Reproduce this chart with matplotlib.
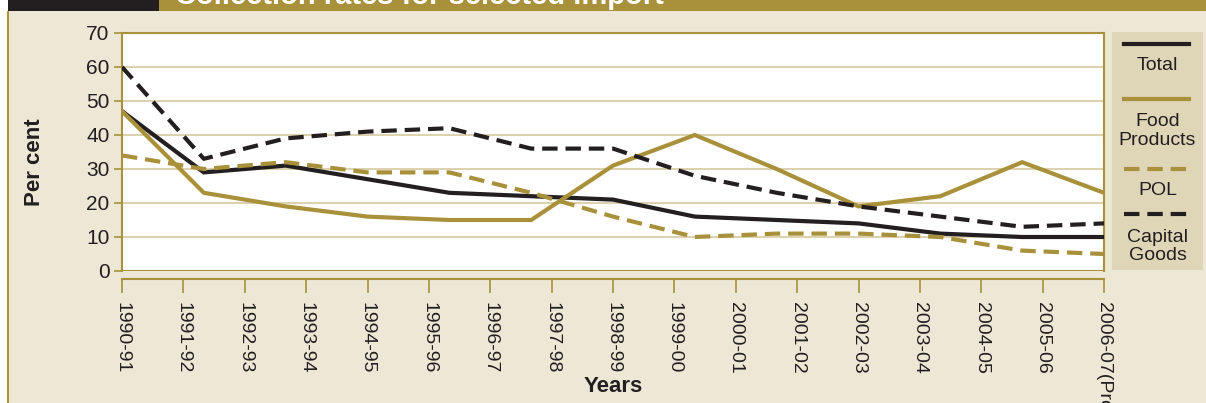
import numpy as np
import matplotlib
matplotlib.use('Agg')
import matplotlib.pyplot as plt
from matplotlib.patches import Rectangle
from matplotlib.lines import Line2D

plt.rcParams['font.family'] = ['Liberation Sans Narrow', 'DejaVu Sans Condensed', 'Liberation Sans', 'DejaVu Sans']

# data
years = ['1990-91', '1991-92', '1992-93', '1993-94', '1994-95', '1995-96',
         '1996-97', '1997-98', '1998-99', '1999-00', '2000-01', '2001-02',
         '2002-03', '2003-04', '2004-05', '2005-06', '2006-07(Prov.)']
total = [47, 29, 31, 27, 23, 22, 21, 16, 15, 14, 11, 10, 10]
food = [47, 23, 19, 16, 15, 15, 31, 40, 30, 19, 22, 32, 23]
pol = [34, 30, 32, 29, 29, 23, 16, 10, 11, 11, 10, 6, 5]
capital = [60, 33, 39, 41, 42, 36, 36, 28, 23, 19, 16, 13, 14]
series_names = ['Total', 'Food\nProducts', 'POL', 'Capital\nGoods']

GOLD = '#A8913A'
DARK = '#231F20'
BEIGE = '#EDE7D6'
LEGBG = '#DFD5B7'
GRID = '#DCD2AF'

W, H = 1206, 403
fig = plt.figure(figsize=(W / 100, H / 100), dpi=100, facecolor=BEIGE)

# header bar + left border
fig.patches.append(Rectangle((0, 1 - 11 / H), 8 / W, 11 / H, transform=fig.transFigure,
                             facecolor='white', edgecolor='none'))
fig.patches.append(Rectangle((0, 0), 7 / W, 1, transform=fig.transFigure,
                             facecolor='white', edgecolor='none'))
fig.patches.append(Rectangle((8 / W, 1 - 11 / H), 151 / W, 11 / H, transform=fig.transFigure,
                             facecolor=DARK, edgecolor='none'))
fig.patches.append(Rectangle((159 / W, 1 - 11 / H), 1 - 159 / W, 11 / H, transform=fig.transFigure,
                             facecolor=GOLD, edgecolor='none'))
fig.patches.append(Rectangle((7 / W, 0), 2 / W, 1 - 11 / H, transform=fig.transFigure,
                             facecolor=GOLD, edgecolor='none'))
fig.text(175 / W, 1 - 4 / H, 'Collection rates for selected import', color='white',
         fontsize=21, fontweight='bold', ha='left', va='baseline')

# main plot
ax = fig.add_axes([122 / W, 1 - 271 / H, (1104 - 122) / W, (271 - 33) / H])
ax.set_facecolor('white')
x = np.arange(len(total))
ax.set_xlim(0, len(total) - 1)
ax.set_ylim(0, 70)
ax.set_yticks(np.arange(0, 71, 10))
ax.yaxis.grid(True, color=GRID, lw=1.5)
ax.set_axisbelow(True)
ax.axhline(0, color=GOLD, lw=1.5, zorder=1.5)

ax.plot(x, total, color=DARK, lw=3, solid_joinstyle='miter', zorder=3)
ax.plot(x, food, color=GOLD, lw=3, solid_joinstyle='miter', zorder=3)
ax.plot(x, pol, color=GOLD, lw=3, ls=(0, (3.7, 1.9)), zorder=3)
ax.plot(x, capital, color=DARK, lw=3, ls=(0, (3.7, 1.9)), zorder=3)

ax.set_xticks(np.linspace(0, len(total) - 1, len(years)))
ax.set_xticklabels(years)

for s in ['top', 'right', 'left']:
    ax.spines[s].set_color(GOLD)
    ax.spines[s].set_linewidth(1.5)
ax.spines['bottom'].set_position(('outward', 6))
ax.spines['bottom'].set_color(GOLD)
ax.spines['bottom'].set_linewidth(1.5)

ax.tick_params(axis='y', length=6, width=1.2, color=GOLD, labelsize=15,
               labelcolor=DARK, pad=3)
ax.tick_params(axis='x', length=10, width=1.2, color=GOLD, labelsize=14,
               labelcolor=DARK, labelrotation=-90, pad=6)

fig.text(35 / W, 1 - 162 / H, 'Per cent', rotation=90, fontsize=16, fontweight='bold',
         color=DARK, ha='center', va='center')
fig.text(613 / W, 1 - 387 / H, 'Years', fontsize=16, fontweight='bold',
         color=DARK, ha='center', va='center')

# legend box
lax = fig.add_axes([1112 / W, 1 - 270 / H, (1203 - 1112) / W, (270 - 32) / H])
lax.set_facecolor(LEGBG)
lax.set_xlim(0, 1)
lax.set_ylim(0, 1)
lax.set_xticks([])
lax.set_yticks([])
for s in lax.spines.values():
    s.set_visible(False)

styles = [(DARK, '-'), (GOLD, '-'), (GOLD, (0, (3.7, 1.9))), (DARK, (0, (3.7, 1.9)))]
line_y = [0.95, 0.718, 0.424, 0.235]
text_y = [0.861, 0.584, 0.332, 0.10]
for (c, ls), ly, ty, name in zip(styles, line_y, text_y, series_names):
    lax.add_line(Line2D([0.13, 0.85], [ly, ly], color=c, lw=3, ls=ls))
    lax.text(0.5, ty, name, ha='center', va='center', fontsize=14, color=DARK,
             linespacing=1.1)

fig.savefig('out.png', dpi=100, facecolor=BEIGE)
